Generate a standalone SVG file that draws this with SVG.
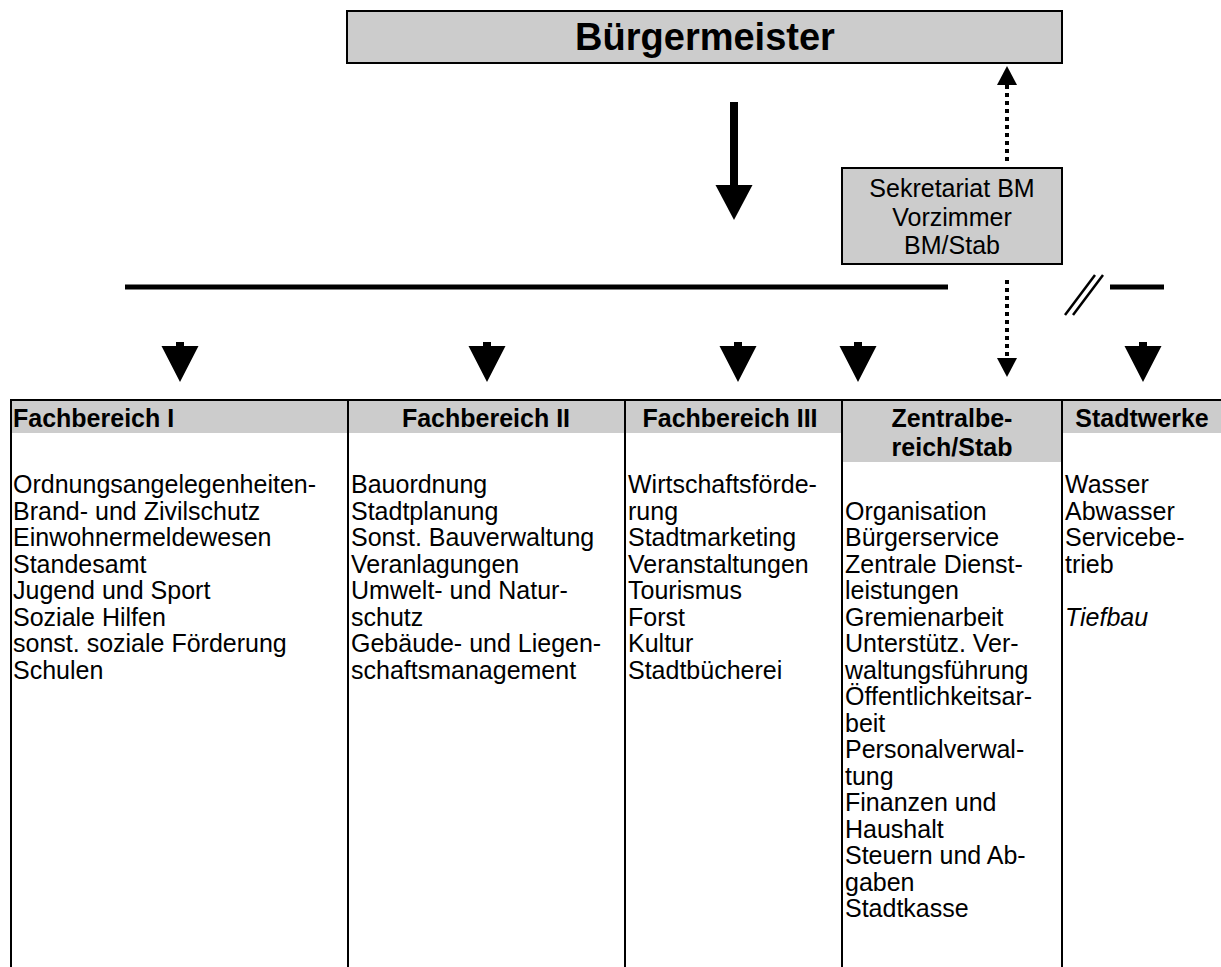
<svg xmlns="http://www.w3.org/2000/svg" width="1221" height="967" viewBox="0 0 1221 967">
<style>
text{font-family:"Liberation Sans",Arial,sans-serif;fill:#000}
.t{font-size:25px}
.h{font-size:25px;font-weight:bold}
.c{text-anchor:middle}
.gray{fill:#cccccc}
.box{fill:#cccccc;stroke:#000;stroke-width:2}
.ln{stroke:#000;stroke-width:2;fill:none}
.thick{stroke:#000;stroke-width:5;fill:none}
.dot{stroke:#000;stroke-width:4;stroke-dasharray:4 4;fill:none}
</style>
<defs>
<path id="arr" d="M-4,0 H4 V4 H18.5 L0,40 L-18.5,4 H-4 Z" fill="#000"/>
<path id="sarr" d="M-10,0 H10 L0,19 Z" fill="#000"/>
</defs>
<rect width="1221" height="967" fill="#fff"/>

<g id="buergermeister">
<rect class="box" x="347" y="11" width="715" height="52"/>
<text class="c" x="705" y="50" style="font-size:38px;font-weight:bold">Bürgermeister</text>
</g>

<g id="sekretariat">
<rect class="box" x="842" y="168" width="220" height="96"/>
<text class="t c" x="952" y="197">Sekretariat BM</text>
<text class="t c" x="952" y="226">Vorzimmer</text>
<text class="t c" x="952" y="254">BM/Stab</text>
</g>

<g id="connectors">
<line x1="734" y1="102" x2="734" y2="186" stroke="#000" stroke-width="8"/>
<polygon points="715.5,185 752.5,185 734,220" fill="#000"/>
<line class="dot" x1="1007" y1="85" x2="1007" y2="165"/>
<use href="#sarr" transform="translate(1007,85) scale(1,-1)"/>
<line class="thick" x1="125" y1="287" x2="948" y2="287"/>
<line class="thick" x1="1110" y1="287" x2="1164" y2="287"/>
<line x1="1065" y1="315" x2="1095" y2="275" stroke="#000" stroke-width="2.5"/>
<line x1="1073" y1="315" x2="1103" y2="275" stroke="#000" stroke-width="2.5"/>
<line class="dot" x1="1007" y1="280" x2="1007" y2="360"/>
<use href="#sarr" transform="translate(1007,358)"/>
<use href="#arr" transform="translate(180,342)"/>
<use href="#arr" transform="translate(487,342)"/>
<use href="#arr" transform="translate(738,342)"/>
<use href="#arr" transform="translate(858,342)"/>
<use href="#arr" transform="translate(1143,342)"/>
</g>

<g id="table-frame">
<rect class="gray" x="10" y="401" width="1211" height="32"/>
<rect class="gray" x="842" y="401" width="220" height="61"/>
<line class="ln" x1="10" y1="400" x2="1221" y2="400"/>
<line class="ln" x1="11" y1="400" x2="11" y2="967"/>
<line class="ln" x1="348" y1="400" x2="348" y2="967"/>
<line class="ln" x1="625" y1="400" x2="625" y2="967"/>
<line class="ln" x1="842" y1="400" x2="842" y2="967"/>
<line class="ln" x1="1062" y1="400" x2="1062" y2="967"/>
</g>

<g id="fachbereich-1">
<text class="h" x="13" y="427">Fachbereich I</text>
<text class="t" x="13" y="493">Ordnungsangelegenheiten-</text>
<text class="t" x="13" y="519.5">Brand- und Zivilschutz</text>
<text class="t" x="13" y="546">Einwohnermeldewesen</text>
<text class="t" x="13" y="572.5">Standesamt</text>
<text class="t" x="13" y="599">Jugend und Sport</text>
<text class="t" x="13" y="625.5">Soziale Hilfen</text>
<text class="t" x="13" y="652">sonst. soziale Förderung</text>
<text class="t" x="13" y="678.5">Schulen</text>
</g>

<g id="fachbereich-2">
<text class="h c" x="486" y="427">Fachbereich II</text>
<text class="t" x="351" y="493">Bauordnung</text>
<text class="t" x="351" y="519.5">Stadtplanung</text>
<text class="t" x="351" y="546">Sonst. Bauverwaltung</text>
<text class="t" x="351" y="572.5">Veranlagungen</text>
<text class="t" x="351" y="599">Umwelt- und Natur-</text>
<text class="t" x="351" y="625.5">schutz</text>
<text class="t" x="351" y="652">Gebäude- und Liegen-</text>
<text class="t" x="351" y="678.5">schaftsmanagement</text>
</g>

<g id="fachbereich-3">
<text class="h c" x="730" y="427">Fachbereich III</text>
<text class="t" x="628" y="493">Wirtschaftsförde-</text>
<text class="t" x="628" y="519.5">rung</text>
<text class="t" x="628" y="546">Stadtmarketing</text>
<text class="t" x="628" y="572.5">Veranstaltungen</text>
<text class="t" x="628" y="599">Tourismus</text>
<text class="t" x="628" y="625.5">Forst</text>
<text class="t" x="628" y="652">Kultur</text>
<text class="t" x="628" y="678.5">Stadtbücherei</text>
</g>

<g id="zentralbereich">
<text class="h c" x="952" y="427">Zentralbe-</text>
<text class="h c" x="952" y="456">reich/Stab</text>
<text class="t" x="845" y="519.5">Organisation</text>
<text class="t" x="845" y="546">Bürgerservice</text>
<text class="t" x="845" y="572.5">Zentrale Dienst-</text>
<text class="t" x="845" y="599">leistungen</text>
<text class="t" x="845" y="625.5">Gremienarbeit</text>
<text class="t" x="845" y="652">Unterstütz. Ver-</text>
<text class="t" x="845" y="678.5">waltungsführung</text>
<text class="t" x="845" y="705">Öffentlichkeitsar-</text>
<text class="t" x="845" y="731.5">beit</text>
<text class="t" x="845" y="758">Personalverwal-</text>
<text class="t" x="845" y="784.5">tung</text>
<text class="t" x="845" y="811">Finanzen und</text>
<text class="t" x="845" y="837.5">Haushalt</text>
<text class="t" x="845" y="864">Steuern und Ab-</text>
<text class="t" x="845" y="890.5">gaben</text>
<text class="t" x="845" y="917">Stadtkasse</text>
</g>

<g id="stadtwerke">
<text class="h c" x="1142" y="427">Stadtwerke</text>
<text class="t" x="1065" y="493">Wasser</text>
<text class="t" x="1065" y="519.5">Abwasser</text>
<text class="t" x="1065" y="546">Servicebe-</text>
<text class="t" x="1065" y="572.5">trieb</text>
<text class="t" x="1065" y="625.5" font-style="italic">Tiefbau</text>
</g>
</svg>
